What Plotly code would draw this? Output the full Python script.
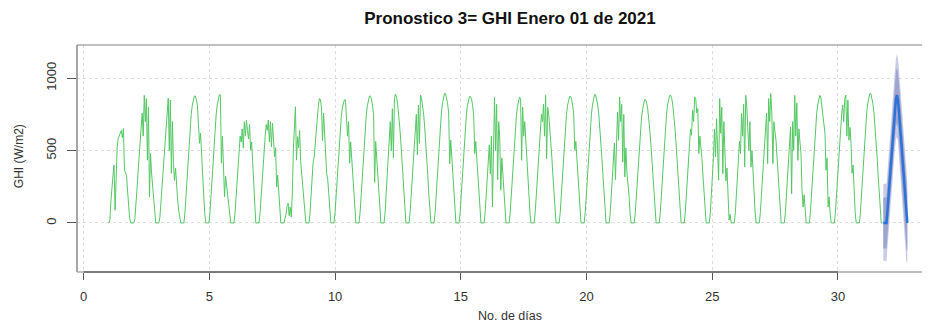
import plotly.graph_objects as go

# ---------------- data ----------------
title_text = "Pronostico 3= GHI Enero 01 de 2021"
x_title = "No. de días"
y_title = "GHI (W/m2)"
x_ticks = [0, 5, 10, 15, 20, 25, 30]
y_ticks = [0, 500, 1000]

series_start = 1.0          # first observation (day)
points_per_day = 24.12      # observations per day of the series

# daylight GHI values (W/m2) of each observed day (20 daylight steps per day)
ghi_day01 = [20, 150, 260, 330, 400, 88, 300, 525, 583, 605, 630, 640, 590, 652, 364, 341, 330, 220, 110, 30]
ghi_day02 = [30, 110, 230, 350, 470, 580, 663, 760, 600, 882, 700, 860, 434, 800, 180, 480, 344, 260, 160, 60]
ghi_day03 = [40, 150, 270, 390, 500, 600, 642, 760, 863, 500, 850, 343, 700, 413, 294, 380, 226, 160, 90, 30]
ghi_day04 = [70, 194, 326, 449, 563, 660, 748, 810, 854, 877, 877, 854, 810, 711, 551, 620, 449, 326, 194, 70]
ghi_day05 = [70, 195, 330, 452, 568, 665, 752, 815, 860, 887, 884, 413, 600, 386, 180, 323, 250, 200, 120, 50]
ghi_day06 = [60, 170, 296, 420, 520, 600, 560, 650, 520, 700, 600, 711, 640, 580, 680, 503, 560, 400, 250, 90]
ghi_day07 = [60, 180, 300, 420, 520, 600, 680, 640, 711, 560, 700, 526, 690, 600, 457, 520, 249, 330, 200, 70]
ghi_day08 = [30, 60, 120, 136, 50, 110, 40, 200, 503, 700, 803, 434, 596, 520, 640, 430, 340, 280, 190, 80]
ghi_day09 = [70, 194, 320, 420, 456, 560, 660, 748, 810, 860, 850, 800, 570, 760, 600, 500, 340, 300, 194, 70]
ghi_day10 = [70, 192, 320, 440, 552, 648, 735, 795, 838, 852, 850, 735, 600, 700, 413, 560, 440, 320, 190, 70]
ghi_day11 = [70, 194, 326, 449, 563, 660, 748, 810, 854, 877, 877, 854, 810, 748, 280, 563, 449, 326, 194, 70]
ghi_day12 = [70, 196, 330, 456, 573, 700, 500, 790, 450, 860, 891, 870, 824, 760, 670, 573, 456, 330, 196, 70]
ghi_day13 = [70, 195, 328, 452, 566, 663, 752, 470, 814, 550, 884, 860, 815, 752, 663, 566, 452, 328, 195, 70]
ghi_day14 = [72, 197, 331, 456, 572, 670, 760, 823, 867, 894, 894, 867, 823, 760, 410, 572, 456, 331, 197, 72]
ghi_day15 = [70, 194, 326, 449, 563, 660, 748, 810, 854, 875, 875, 854, 810, 748, 480, 563, 449, 326, 194, 70]
ghi_day16 = [70, 190, 320, 440, 540, 340, 600, 110, 700, 870, 500, 820, 300, 700, 594, 226, 450, 320, 190, 70]
ghi_day17 = [70, 192, 322, 445, 558, 654, 742, 804, 846, 870, 860, 433, 800, 600, 700, 558, 445, 322, 192, 70]
ghi_day18 = [70, 195, 328, 452, 566, 663, 752, 700, 820, 600, 882, 445, 800, 752, 663, 566, 452, 328, 195, 70]
ghi_day19 = [70, 194, 326, 449, 563, 660, 748, 810, 854, 875, 875, 854, 810, 748, 502, 563, 449, 326, 194, 70]
ghi_day20 = [71, 196, 330, 452, 568, 665, 754, 816, 860, 887, 887, 860, 816, 754, 665, 568, 452, 330, 196, 71]
ghi_day21 = [70, 190, 318, 440, 552, 300, 650, 767, 571, 870, 700, 820, 420, 750, 318, 520, 350, 290, 190, 70]
ghi_day22 = [68, 188, 316, 435, 546, 640, 725, 785, 828, 852, 852, 828, 785, 725, 640, 546, 435, 316, 188, 68]
ghi_day23 = [70, 195, 328, 452, 566, 663, 752, 815, 860, 882, 882, 860, 815, 752, 663, 566, 452, 328, 195, 70]
ghi_day24 = [70, 193, 324, 445, 560, 650, 606, 780, 700, 871, 860, 760, 790, 480, 600, 540, 445, 324, 193, 70]
ghi_day25 = [70, 194, 300, 449, 650, 456, 720, 560, 295, 860, 620, 800, 340, 700, 500, 290, 380, 157, 20, 60]
ghi_day26 = [70, 195, 328, 452, 566, 479, 756, 600, 820, 387, 882, 800, 686, 500, 700, 387, 500, 328, 195, 70]
ghi_day27 = [72, 197, 331, 456, 572, 670, 760, 410, 860, 700, 894, 760, 410, 700, 640, 572, 456, 331, 197, 72]
ghi_day28 = [70, 195, 328, 452, 566, 663, 203, 700, 502, 882, 600, 830, 433, 650, 560, 480, 225, 110, 195, 70]
ghi_day29 = [70, 195, 328, 452, 566, 663, 752, 815, 860, 882, 870, 800, 752, 700, 620, 364, 450, 110, 180, 60]
ghi_day30 = [70, 195, 328, 452, 566, 663, 752, 815, 700, 860, 884, 600, 849, 572, 660, 550, 343, 400, 195, 70]
ghi_day31 = [72, 197, 331, 456, 572, 670, 760, 823, 867, 894, 894, 867, 823, 760, 670, 572, 456, 331, 197, 72]

night_before = [0]          # steps before sunrise
night_after = [0, 0, 0]     # steps after sunset
last_day_night_after = [0, 0]

# forecast (next 24 steps) and prediction intervals
fc_mean = [0, 0, 0, 0, 90, 190, 290, 390, 490, 590, 690, 780, 850, 884,
           850, 770, 670, 570, 470, 370, 260, 150, 40, 0]
fc_lo80 = [-175, -176, -176, -177, -88, 10, 108, 207, 305, 404, 502, 591, 660, 694,
           658, 577, 476, 375, 274, 173, 62, -50, -161, -202]
fc_hi80 = [175, 176, 176, 177, 268, 370, 472, 573, 675, 776, 878, 969, 1040, 1071,
           1042, 963, 864, 765, 666, 567, 458, 350, 241, 202]
fc_lo95 = [-260, -262, -263, -264, -176, -78, 20, 118, 216, 314, 412, 500, 568, 598,
           563, 481, 380, 278, 176, 74, -38, -150, -262, -282]
fc_hi95 = [270, 271, 272, 273, 358, 460, 562, 663, 765, 866, 968, 1060, 1132, 1168,
           1138, 1060, 962, 864, 766, 668, 560, 452, 344, 284]

days = [ghi_day01, ghi_day02, ghi_day03, ghi_day04, ghi_day05, ghi_day06, ghi_day07,
        ghi_day08, ghi_day09, ghi_day10, ghi_day11, ghi_day12, ghi_day13, ghi_day14,
        ghi_day15, ghi_day16, ghi_day17, ghi_day18, ghi_day19, ghi_day20, ghi_day21,
        ghi_day22, ghi_day23, ghi_day24, ghi_day25, ghi_day26, ghi_day27, ghi_day28,
        ghi_day29, ghi_day30, ghi_day31]

# ---------------- build series ----------------
ghi = []
for i, d in enumerate(days):
    tail = last_day_night_after if i == len(days) - 1 else night_after
    ghi.extend(night_before + d + tail)
t_obs = [series_start + i / points_per_day for i in range(len(ghi))]
n = len(ghi)
t_fc = [series_start + (n + j) / points_per_day for j in range(len(fc_mean))]

FONT = "Liberation Sans, Arial, sans-serif"
fig = go.Figure()

fig.add_trace(go.Scatter(
    x=t_fc + t_fc[::-1], y=fc_hi95 + fc_lo95[::-1], fill="toself",
    fillcolor="rgb(200,203,228)", line=dict(width=0), mode="lines",
    hoverinfo="skip", showlegend=False))
fig.add_trace(go.Scatter(
    x=t_fc + t_fc[::-1], y=fc_hi80 + fc_lo80[::-1], fill="toself",
    fillcolor="rgb(158,164,206)", line=dict(width=0), mode="lines",
    hoverinfo="skip", showlegend=False))
fig.add_trace(go.Scatter(
    x=t_obs, y=ghi, mode="lines",
    line=dict(color="rgb(85,200,100)", width=1), showlegend=False))
fig.add_trace(go.Scatter(
    x=t_fc, y=fc_mean, mode="lines",
    line=dict(color="rgb(45,115,215)", width=2.5), showlegend=False))

# page is shown with an 8 px body margin, so the figure is 8 px smaller
OFF = 8
W, H = 930 - OFF, 325 - OFF
L, T = 77 - OFF, 45 - OFF
plot_bottom = 271.7 - OFF
B = H - plot_bottom
R = 0
pw = W - L - R
ph = H - T - B

fig.update_layout(
    width=W, height=H,
    margin=dict(l=L, r=R, t=T, b=B, autoexpand=False),
    paper_bgcolor="white", plot_bgcolor="white",
    font=dict(family=FONT, size=12, color="#333"),
    title=dict(text="<b>" + title_text + "</b>", x=(510 - OFF - L) / pw, xref="paper",
               xanchor="center", y=1 - (18 - OFF) / H, yref="container", yanchor="middle",
               font=dict(size=17, color="#111", family=FONT)),
    xaxis=dict(range=[-0.266, 33.66], tickvals=x_ticks, ticks="outside", ticklen=7,
               tickcolor="#555", tickwidth=1, showline=False, zeroline=False,
               showgrid=True, gridcolor="#dcdcdc", griddash="dot", gridwidth=1,
               tickfont=dict(size=13, color="#333"), ticklabelstandoff=5,
               automargin=False),
    yaxis=dict(range=[-339, 1230], tickvals=y_ticks, ticks="outside", ticklen=9,
               tickcolor="#555", tickwidth=1, showline=False, zeroline=False,
               showgrid=True, gridcolor="#dcdcdc", griddash="dot", gridwidth=1,
               tickangle=-90, tickfont=dict(size=13, color="#333"), ticklabelstandoff=6,
               automargin=False),
    annotations=[
        dict(text=x_title, xref="paper", yref="paper", x=(510 - OFF - L) / pw,
             y=-(316 - OFF - (T + ph)) / ph, xanchor="center", yanchor="middle",
             showarrow=False, font=dict(size=12.5, color="#333")),
        dict(text=y_title, xref="paper", yref="paper", x=-(L - (19 - OFF)) / pw,
             y=(T + ph - (156 - OFF)) / ph, xanchor="center", yanchor="middle",
             textangle=-90, showarrow=False, font=dict(size=12, color="#333")),
    ],
    shapes=[
        dict(type="line", xref="paper", yref="paper", x0=0, x1=1, y0=1, y1=1,
             line=dict(color="#aaaaaa", width=1.5)),
        dict(type="line", xref="paper", yref="paper", x0=0, x1=0, y0=0, y1=1,
             line=dict(color="#888888", width=1.5)),
        dict(type="line", xref="paper", yref="paper", x0=0, x1=1, y0=0, y1=0,
             line=dict(color="#aaaaaa", width=1.5)),
        dict(type="line", xref="x", yref="paper", x0=x_ticks[0], x1=x_ticks[-1], y0=0, y1=0,
             line=dict(color="#666666", width=1.5)),
    ],
)

fig.write_html("out.html")
